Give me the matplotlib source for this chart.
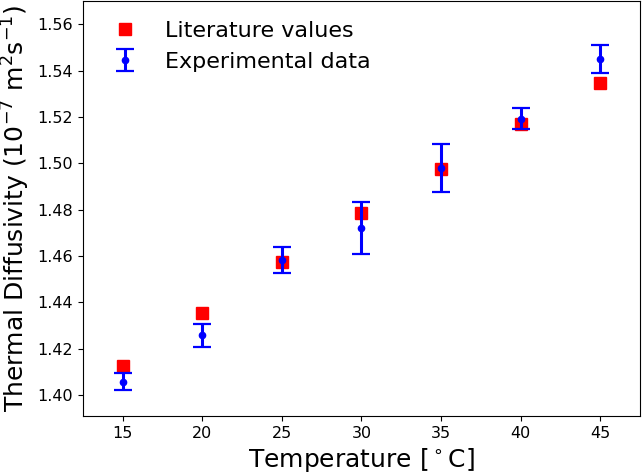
import numpy as np
import matplotlib
matplotlib.use('Agg')
import matplotlib.pyplot as plt

temps = [15, 20, 25, 30, 35, 40, 45]
lit_vals = [1.4128, 1.4356, 1.4574, 1.4787, 1.4976, 1.5169, 1.5348]
exp_vals = [1.4059, 1.4258, 1.4582, 1.4720, 1.4981, 1.5193, 1.5451]
exp_err = [0.0038, 0.0051, 0.0056, 0.0112, 0.0103, 0.0044, 0.0060]

fig = plt.figure(figsize=(6.42, 4.75), dpi=100)
ax = fig.add_axes([0.129, 0.124, 0.868, 0.874])

ax.plot(temps, lit_vals, 's', color='#ff0000', markersize=8,
        label='Literature values')
ax.errorbar(temps, exp_vals, yerr=exp_err, fmt='o', color='#0000ff',
            markersize=4.5, elinewidth=2.2, capsize=6.8, capthick=1.6,
            label='Experimental data')

ax.set_xlim(12.5, 47.5)
ax.set_ylim(1.391, 1.570)
ax.set_xticks(np.arange(15, 50, 5))
ax.set_yticks(np.arange(1.40, 1.57, 0.02))
ax.tick_params(labelsize=11.5)

ax.set_xlabel('Temperature [$^\\circ$C]', fontsize=18)
ax.set_ylabel('Thermal Diffusivity ($10^{-7}$ m$^2$s$^{-1}$)', fontsize=18)
ax.legend(loc='upper left', fontsize=16, frameon=False)

plt.savefig('out.png', dpi=100)
